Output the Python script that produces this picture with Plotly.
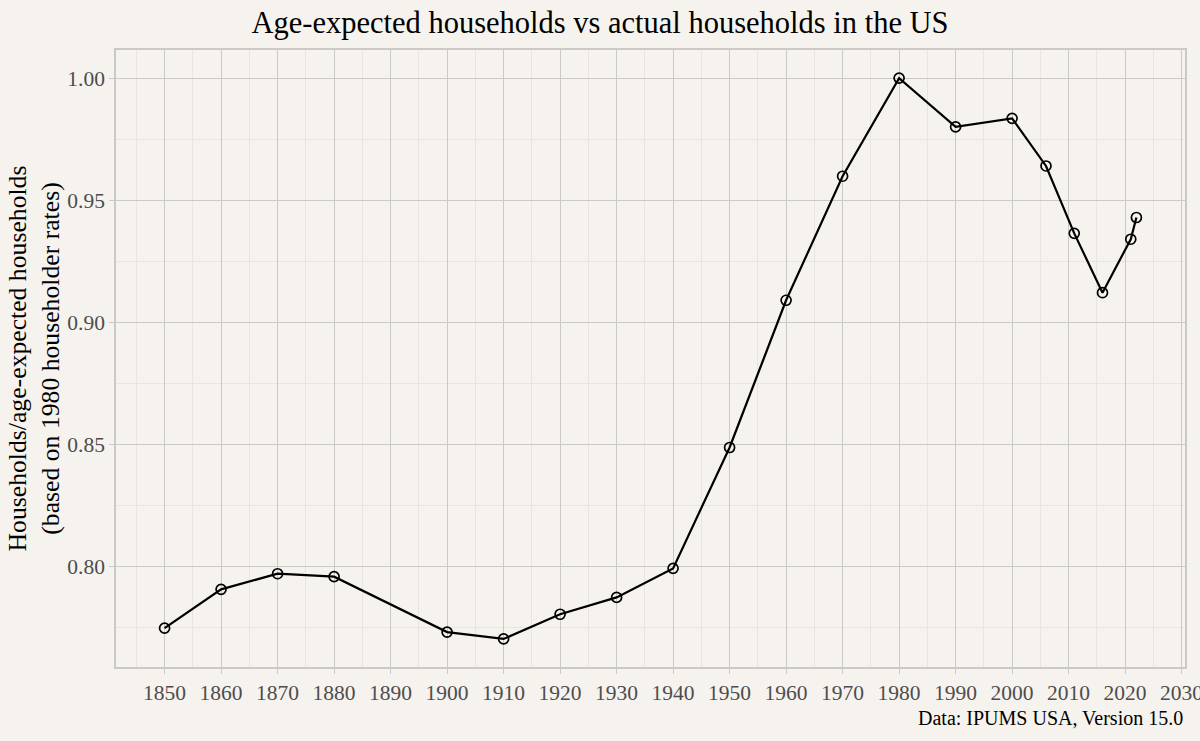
import plotly.graph_objects as go

# Census / ACS years and households relative to age-expected households
years = [1850, 1860, 1870, 1880, 1900, 1910, 1920, 1930, 1940, 1950,
         1960, 1970, 1980, 1990, 2000, 2006, 2011, 2016, 2021, 2022]
ratio = [0.7747, 0.7906, 0.7970, 0.7958, 0.7731, 0.7703, 0.7804, 0.7873,
         0.7992, 0.8487, 0.9090, 0.9598, 1.0000, 0.9800, 0.9835, 0.9640,
         0.9364, 0.9121, 0.9340, 0.9429]

x_ticks = list(range(1850, 2031, 10))
y_ticks = [0.80, 0.85, 0.90, 0.95, 1.00]

BG = "#f6f3ef"
GRID = "#cbc9c6"
MINOR = "#e8e5e1"
FONT = "Liberation Serif"

fig = go.Figure()
fig.add_scatter(
    x=years, y=ratio,
    mode="lines+markers",
    line=dict(color="black", width=2.2),
    marker=dict(symbol="circle-open", size=10, color="black",
                line=dict(width=1.7, color="black")),
    showlegend=False,
)

fig.update_layout(
    width=1200, height=741,
    paper_bgcolor=BG, plot_bgcolor=BG,
    margin=dict(l=116, r=15, t=50, b=74),
    font=dict(family=FONT, color="black"),
    title=dict(text="Age-expected households vs actual households in the US",
               x=0.5, xanchor="center", y=0.970, yanchor="middle",
               font=dict(size=30.5, family=FONT, color="black")),
    annotations=[dict(text="Data: IPUMS USA, Version 15.0",
                      xref="paper", yref="paper", x=1.0, y=-0.083,
                      xanchor="right", yanchor="middle", showarrow=False,
                      font=dict(size=20, family=FONT, color="black"))],
)

fig.update_xaxes(
    range=[1841.4, 2030.6],
    tickvals=x_ticks,
    ticks="outside", ticklen=5, tickcolor=GRID,
    tickfont=dict(size=21.5, color="#4d4d4d"),
    ticklabeloverflow="allow",
    showgrid=True, gridcolor=GRID, gridwidth=1.3,
    minor=dict(dtick=5, tick0=1845, showgrid=True, gridcolor=MINOR, gridwidth=0.8),
    showline=True, linecolor=GRID, linewidth=1.5, mirror=True,
    zeroline=False, automargin=False,
)
fig.update_yaxes(
    range=[0.7588, 1.0115],
    tickvals=y_ticks, tickformat=".2f",
    ticks="outside", ticklen=5, tickcolor=GRID,
    tickfont=dict(size=21.5, color="#4d4d4d"),
    showgrid=True, gridcolor=GRID, gridwidth=1.3,
    minor=dict(dtick=0.025, tick0=0.775, showgrid=True, gridcolor=MINOR, gridwidth=0.8),
    showline=True, linecolor=GRID, linewidth=1.5, mirror=True,
    zeroline=False, automargin=False,
    title=dict(text="Households/age-expected households<br>(based on 1980 householder rates)",
               font=dict(size=25.7, family=FONT, color="black"), standoff=0),
)

# drop the browser's default body margin so the figure fills the window
fig.write_html("out.html",
               config={"displayModeBar": False},
               post_script="document.body.style.margin='0';"
                           "document.body.style.background='" + BG + "';")
